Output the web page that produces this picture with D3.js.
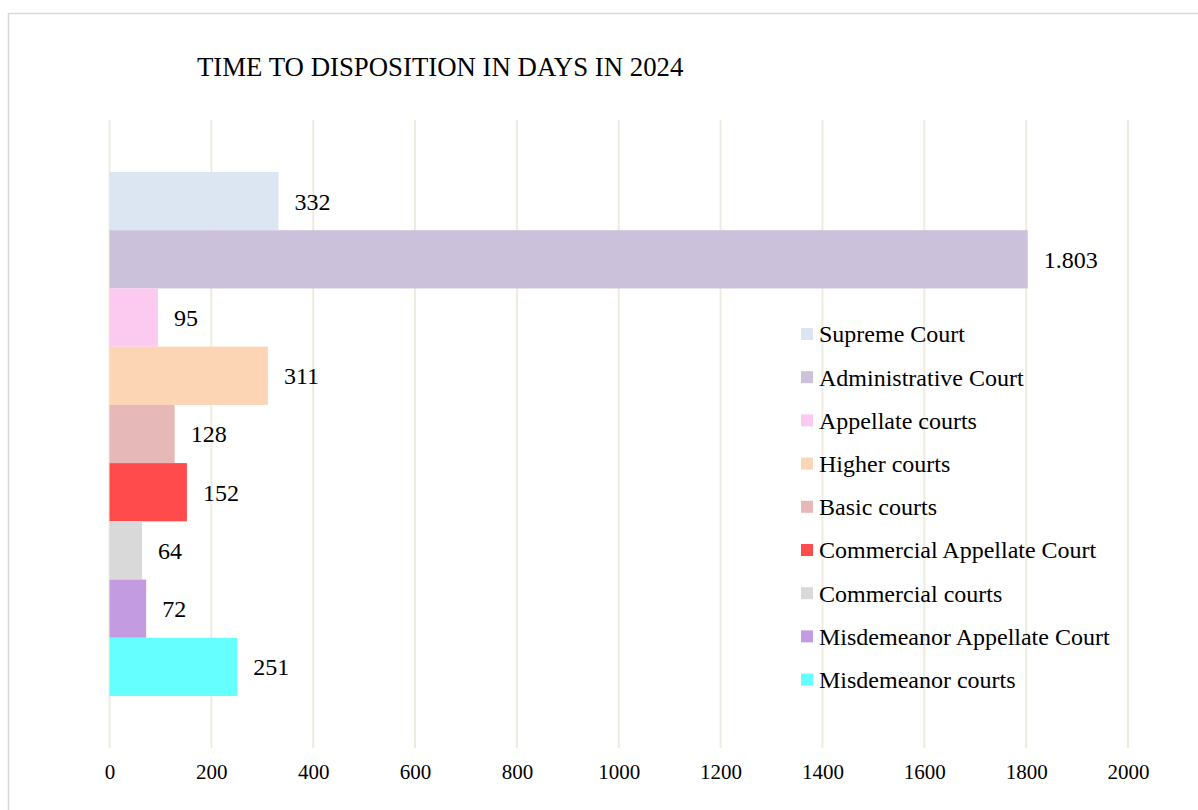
<!DOCTYPE html>
<html>
<head>
<meta charset="utf-8">
<script src="https://cdn.jsdelivr.net/npm/d3@7/dist/d3.min.js"></script>
<style>
  html, body { margin: 0; padding: 0; background: #fff; }
  svg text { font-family: "Liberation Serif", "Times New Roman", serif; fill: #000; }
</style>
</head>
<body>
<script>
// values
var courts = ['Supreme Court', 'Administrative Court', 'Appellate courts', 'Higher courts', 'Basic courts',
  'Commercial Appellate Court', 'Commercial courts', 'Misdemeanor Appellate Court', 'Misdemeanor courts']
var days = [332, 1803, 95, 311, 128, 152, 64, 72, 251]
var colors = ['#dce6f2', '#ccc1da', '#fcc9f0', '#fcd5b5', '#e6b9b8', '#ff4b4b', '#d9d9d9', '#c39be1', '#66ffff']
var ticks = [0, 200, 400, 600, 800, 1000, 1200, 1400, 1600, 1800, 2000]

var width = 1198, height = 810
var svg = d3.select('body').append('svg').attr('width', width).attr('height', height)

// chart border
svg.append('rect').attr('x', 8.5).attr('y', 13.5).attr('width', 1200).attr('height', 820)
  .attr('fill', '#fff').attr('stroke', '#d9d9d9').attr('stroke-width', 1.5)

svg.append('text').attr('x', 197).attr('y', 76).attr('font-size', 26.8)
  .text('TIME TO DISPOSITION IN DAYS IN 2024')

var x = d3.scaleLinear().domain([0, 2000]).range([109.5, 1128])
var y = d3.scaleBand().domain(courts).range([172, 696]).padding(0)

// gridlines
svg.append('g').selectAll('line').data(ticks).enter().append('line')
  .attr('x1', function (d) { return x(d) }).attr('x2', function (d) { return x(d) })
  .attr('y1', 120).attr('y2', 748)
  .attr('stroke', '#efebe0').attr('stroke-width', 2)

// axis labels, no axis line
var axis = d3.axisBottom(x).tickValues(ticks).tickSize(0).tickPadding(0).tickFormat(d3.format('d'))
var ax = svg.append('g').attr('transform', 'translate(0,764)').call(axis)
ax.select('.domain').remove()
ax.selectAll('text').attr('font-size', 21).attr('font-family', '"Liberation Serif", serif').attr('fill', '#000')

var fmt = d3.formatLocale({decimal: ',', thousands: '.', grouping: [3], currency: ['', '']}).format(',d')

var bars = svg.append('g')
bars.selectAll('rect').data(days).enter().append('rect')
  .attr('x', x(0))
  .attr('y', function (d, i) { return y(courts[i]) })
  .attr('width', function (d) { return x(d) - x(0) })
  .attr('height', y.bandwidth())
  .attr('fill', function (d, i) { return colors[i] })

bars.selectAll('text').data(days).enter().append('text')
  .attr('x', function (d) { return x(d) + 16 })
  .attr('y', function (d, i) { return y(courts[i]) + y.bandwidth() / 2 })
  .attr('dy', '0.35em')
  .attr('font-size', 24)
  .text(function (d) { return fmt(d) })

// legend
var legend = svg.append('g').selectAll('g').data(courts).enter().append('g')
  .attr('transform', function (d, i) { return 'translate(801,' + (334 + i * 43.2) + ')' })
legend.append('rect').attr('x', 0).attr('y', -6).attr('width', 12).attr('height', 12)
  .attr('fill', function (d, i) { return colors[i] })
legend.append('text').attr('x', 18).attr('dy', '0.35em').attr('font-size', 24)
  .text(function (d) { return d })
</script>
</body>
</html>
